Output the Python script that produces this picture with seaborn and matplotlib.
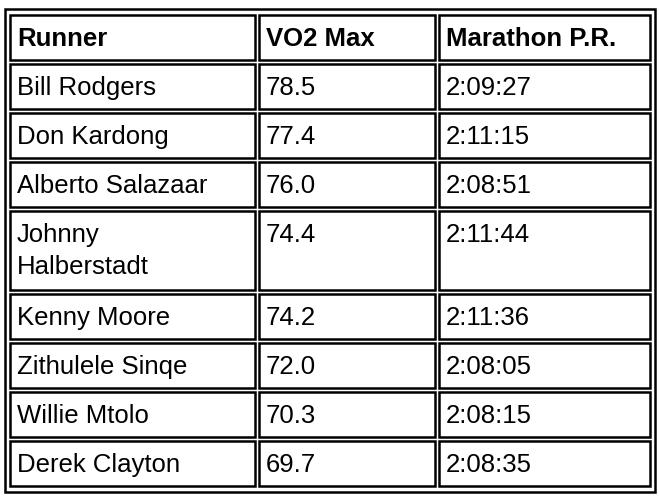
import matplotlib
matplotlib.use("Agg")
import matplotlib.pyplot as plt
from matplotlib.patches import Rectangle
import seaborn as sns

sns.set_style("white")
plt.rcParams['font.family'] = ['Liberation Sans', 'DejaVu Sans']

headers = ["Runner", "VO2 Max", "Marathon P.R."]
runners = ["Bill Rodgers", "Don Kardong", "Alberto Salazaar", "Johnny\nHalberstadt",
           "Kenny Moore", "Zithulele Sinqe", "Willie Mtolo", "Derek Clayton"]
vo2 = ["78.5", "77.4", "76.0", "74.4", "74.2", "72.0", "70.3", "69.7"]
pr = ["2:09:27", "2:11:15", "2:08:51", "2:11:44", "2:11:36", "2:08:05", "2:08:15", "2:08:35"]

W, H = 660, 501
fig = plt.figure(figsize=(6.6, 5.01), dpi=100)
ax = fig.add_axes([0, 0, 1, 1])
ax.set_xlim(0, W); ax.set_ylim(H, 0); ax.axis("off")

ax.add_patch(Rectangle((5, 9), 650, 483, fill=False, lw=1.8, ec="black"))

col_x = [10, 259, 439]
col_w = [245, 176, 211]
heights = [45] + [79 if "\n" in r else 45 for r in runners]
gap = 4
rows = [headers] + [[r, v, p] for r, v, p in zip(runners, vo2, pr)]
y = 15
for i, (row, h) in enumerate(zip(rows, heights)):
    for j, txt in enumerate(row):
        ax.add_patch(Rectangle((col_x[j], y), col_w[j], h, fill=False, lw=1.8, ec="black"))
        for k, line in enumerate(txt.split("\n")):
            ax.text(col_x[j] + 7, y + 24 + k * 32, line, fontsize=18.5,
                    fontweight="bold" if i == 0 else "normal", va="center", ha="left", color="black")
    y += h + gap

fig.savefig("out.png", dpi=100)
